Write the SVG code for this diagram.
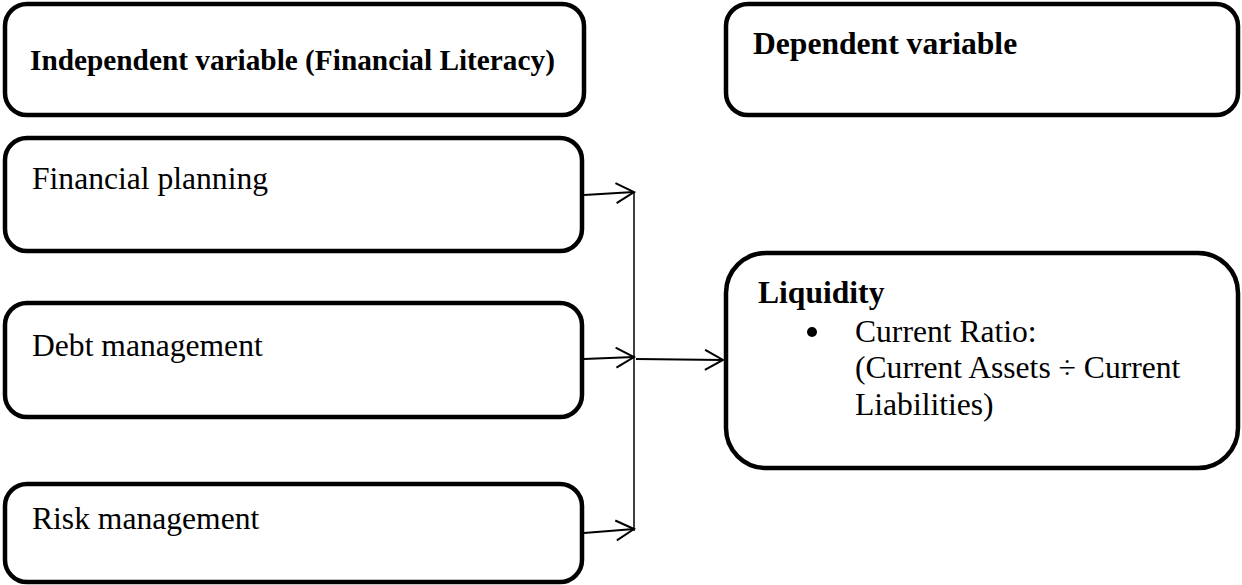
<svg xmlns="http://www.w3.org/2000/svg" width="1242" height="585" viewBox="0 0 1242 585">
  <style>
    .box { fill: #ffffff; stroke: #000000; stroke-width: 4.5; }
    .t { font-family: "Liberation Serif", "Times New Roman", serif; font-size: 31.6px; fill: #000000; }
    .b { font-weight: bold; }
    .conn { stroke: #000000; stroke-width: 2; fill: none; }
    .bus { stroke: #000000; stroke-width: 1.5; fill: none; }
  </style>
  <defs>
    <marker id="arrow" markerUnits="userSpaceOnUse" markerWidth="24" markerHeight="26" refX="19" refY="11" orient="auto">
      <path d="M1,1 L19,11 L1,21" fill="none" stroke="#000000" stroke-width="2"/>
    </marker>
  </defs>
  <rect width="1242" height="585" fill="#ffffff"/>

  <g id="independent-variable">
    <rect class="box" x="5" y="4" width="579" height="111" rx="22"/>
    <text class="t b" x="30" y="70" style="font-size:29.3px">Independent variable (Financial Literacy)</text>
  </g>

  <g id="dependent-variable">
    <rect class="box" x="726" y="4" width="512" height="111" rx="22"/>
    <text class="t b" x="753" y="54">Dependent variable</text>
  </g>

  <g id="financial-planning">
    <rect class="box" x="5" y="138" width="577" height="113" rx="22"/>
    <text class="t" x="32" y="189">Financial planning</text>
  </g>

  <g id="debt-management">
    <rect class="box" x="5" y="303" width="577" height="114" rx="22"/>
    <text class="t" x="32" y="356">Debt management</text>
  </g>

  <g id="risk-management">
    <rect class="box" x="5" y="484" width="577" height="98" rx="22"/>
    <text class="t" x="32" y="529">Risk management</text>
  </g>

  <g id="liquidity">
    <rect class="box" x="726" y="253" width="512" height="215" rx="40"/>
    <text class="t b" x="758" y="303">Liquidity</text>
    <circle cx="812" cy="332" r="5"/>
    <text class="t" x="855" y="342">Current Ratio:</text>
    <text class="t" x="855" y="378">(Current Assets ÷ Current</text>
    <text class="t" x="855" y="415">Liabilities)</text>
  </g>

  <g id="connectors">
    <line class="bus" x1="634" y1="192" x2="634" y2="531"/>
    <line class="conn" x1="584" y1="195" x2="634" y2="192" marker-end="url(#arrow)"/>
    <line class="conn" x1="584" y1="359" x2="634" y2="357" marker-end="url(#arrow)"/>
    <line class="conn" x1="584" y1="533" x2="634" y2="529" marker-end="url(#arrow)"/>
    <line class="conn" x1="636" y1="359" x2="723" y2="360" marker-end="url(#arrow)"/>
  </g>
</svg>
